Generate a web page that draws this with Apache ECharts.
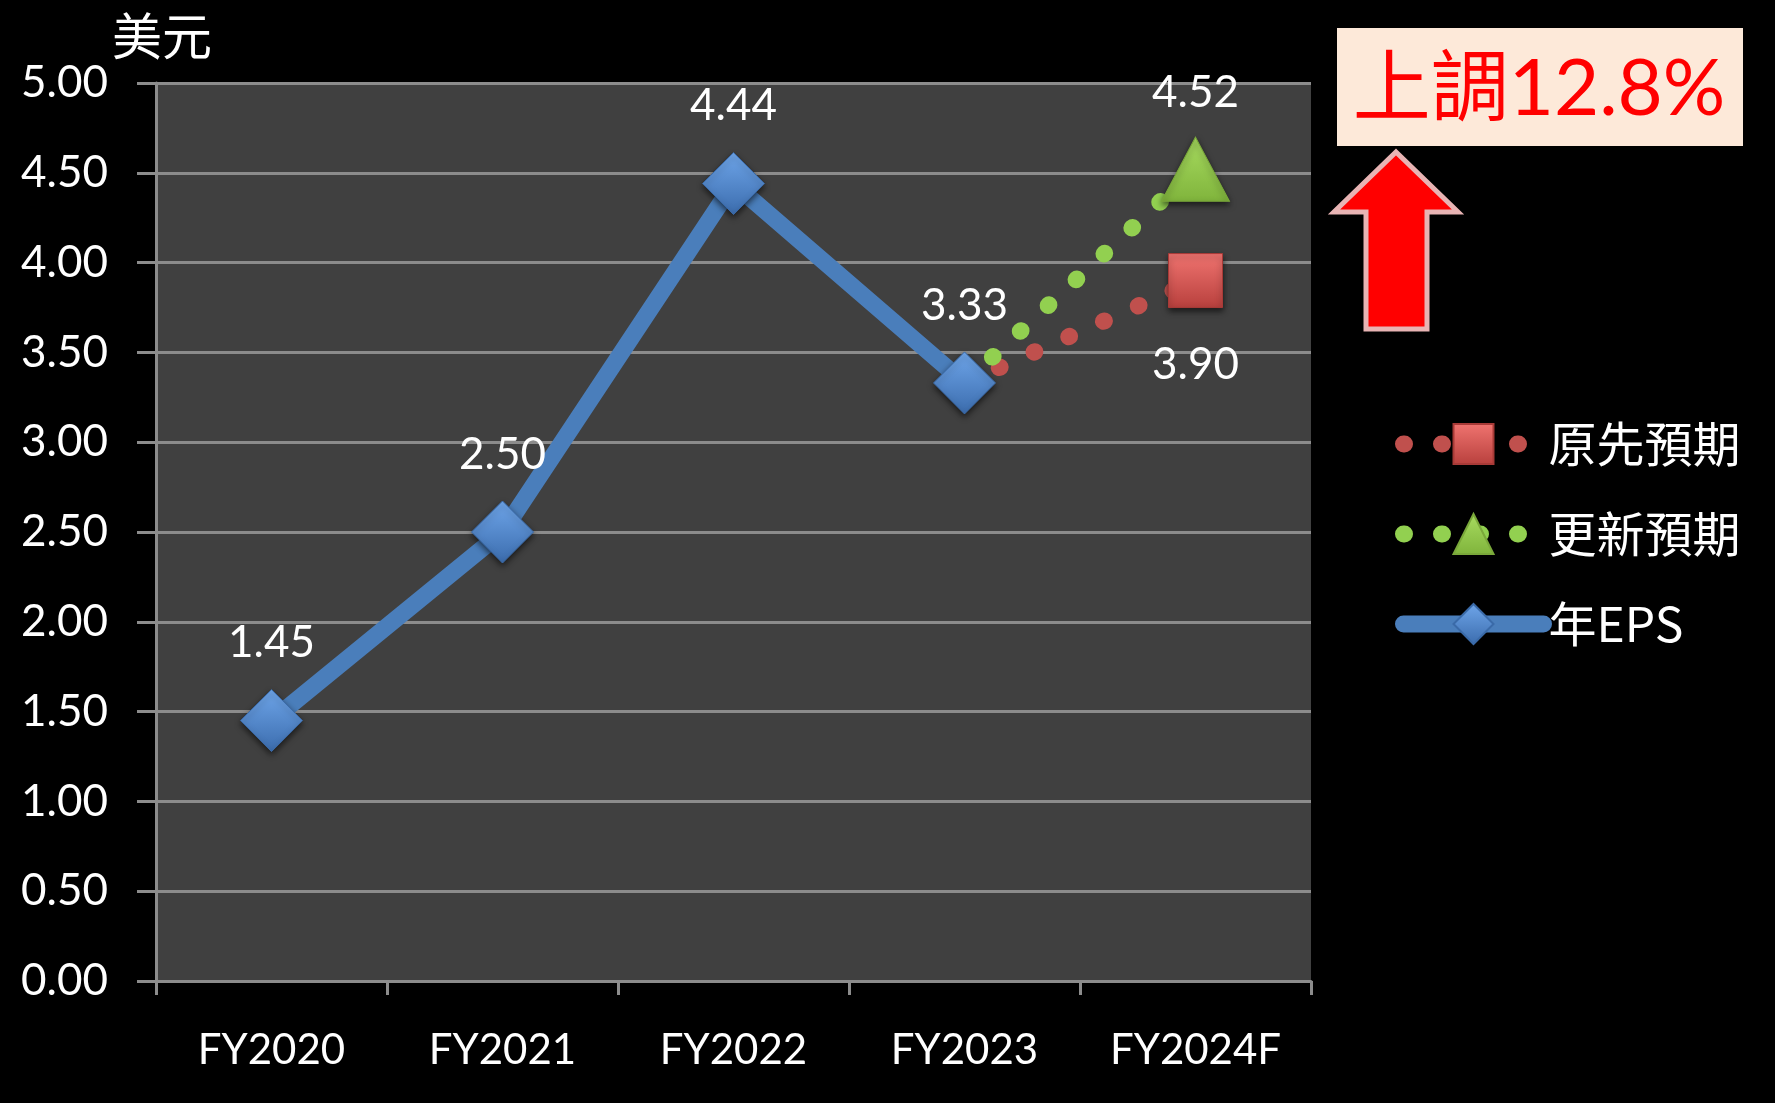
<!DOCTYPE html>
<html>
<head>
<meta charset="utf-8">
<script src="https://cdn.jsdelivr.net/npm/echarts@6/dist/echarts.min.js"></script>
<style>
  html, body { margin: 0; padding: 0; background: #000; }
  #chart { width: 1775px; height: 1103px; }
</style>
</head>
<body>
<div id="chart"></div>
<script>
// 資料
var years = ['FY2020', 'FY2021', 'FY2022', 'FY2023', 'FY2024F']
var epsValues = [1.45, 2.50, 4.44, 3.33, null]
var origValues = [null, null, null, 3.33, 3.90]   // 原先預期
var updValues = [null, null, null, 3.33, 4.52]    // 更新預期
var yTicks = { min: 0, max: 5, step: 0.5 }

var numFont = 'Lato, "Noto Sans CJK TC", sans-serif'
var cjkFont = '"Noto Sans CJK TC", Lato, sans-serif'
var dotStyle = [1, 37]

// 只在最後一點畫標記
function forecastData (values) {
  return values.map(function (v, i) {
    if (v === null) return null
    if (i === values.length - 1) return { value: v }
    return { value: v, symbol: 'none' }
  })
}

function grad (top, bottom) {
  return new echarts.graphic.LinearGradient(0, 0, 0, 1, [
    { offset: 0, color: top },
    { offset: 1, color: bottom }
  ])
}

var myChart = echarts.init(document.getElementById('chart'))
var option = {
  backgroundColor: '#000',
  animation: false,
  grid: {
    left: 156,
    right: 464,
    top: 83,
    bottom: 122,
    containLabel: false,
    show: true,
    backgroundColor: '#404040',
    borderWidth: 0
  },
  legend: {
    orient: 'vertical',
    left: 1390,
    top: 414,
    itemWidth: 140,
    itemHeight: 50,
    itemGap: 40,
    data: [
      { name: '原先預期', lineStyle: { width: 17, type: dotStyle, cap: 'round' } },
      { name: '更新預期', lineStyle: { width: 17, type: dotStyle, cap: 'round' } },
      { name: '年EPS', lineStyle: { width: 17, cap: 'round' } }
    ],
    textStyle: {
      color: '#fff',
      fontSize: 48,
      lineHeight: 50,
      fontFamily: cjkFont,
      padding: [0, 0, 0, 0]
    }
  },
  xAxis: {
    type: 'category',
    data: years,
    boundaryGap: true,
    axisLine: { lineStyle: { color: '#8c8c8c', width: 3 } },
    axisTick: { show: true, length: 14, lineStyle: { color: '#8c8c8c', width: 3 } },
    axisLabel: { color: '#fff', fontSize: 42, fontFamily: numFont, margin: 48 },
    splitLine: { show: false }
  },
  yAxis: {
    type: 'value',
    min: yTicks.min,
    max: yTicks.max,
    interval: yTicks.step,
    name: '美元',
    nameLocation: 'end',
    nameGap: 20,
    nameTextStyle: { color: '#fff', fontSize: 50, fontFamily: cjkFont, padding: [0, 0, 0, 12] },
    axisLine: { show: true, lineStyle: { color: '#8c8c8c', width: 3 } },
    axisTick: { show: true, length: 19, lineStyle: { color: '#8c8c8c', width: 3 } },
    axisLabel: {
      color: '#fff',
      fontSize: 44,
      fontFamily: numFont,
      margin: 48,
      formatter: function (v) { return v.toFixed(2) }
    },
    splitLine: { show: true, lineStyle: { color: '#8c8c8c', width: 3 } }
  },
  series: [
    {
      name: '原先預期',
      type: 'line',
      z: 2,
      data: forecastData(origValues),
      symbol: 'rect',
      symbolSize: 54,
      lineStyle: { color: '#c0504d', width: 17, type: dotStyle, cap: 'round' },
      itemStyle: {
        color: grad('#f07470', '#b8403d'),
        borderColor: '#a83a37',
        borderWidth: 1,
        shadowColor: 'rgba(0,0,0,0.6)',
        shadowBlur: 6,
        shadowOffsetY: 3
      },
      label: {
        show: true,
        position: 'bottom',
        distance: 35,
        color: '#fff',
        fontSize: 44,
        fontFamily: numFont,
        formatter: function (p) { return p.dataIndex === 4 ? p.value.toFixed(2) : '' }
      }
    },
    {
      name: '更新預期',
      type: 'line',
      z: 3,
      data: forecastData(updValues),
      symbol: 'triangle',
      symbolSize: [68, 64],
      lineStyle: { color: '#92d050', width: 17, type: dotStyle, cap: 'round' },
      itemStyle: {
        color: grad('#a8dc60', '#80b43c'),
        borderColor: '#7aa83a',
        borderWidth: 1,
        shadowColor: 'rgba(0,0,0,0.6)',
        shadowBlur: 6,
        shadowOffsetY: 3
      },
      label: {
        show: true,
        position: 'top',
        distance: 22,
        color: '#fff',
        fontSize: 44,
        fontFamily: numFont,
        formatter: function (p) { return p.dataIndex === 4 ? p.value.toFixed(2) : '' }
      }
    },
    {
      name: '年EPS',
      type: 'line',
      z: 5,
      data: epsValues,
      symbol: 'diamond',
      symbolSize: [62, 62],
      lineStyle: { color: '#4a7ebb', width: 17 },
      itemStyle: {
        color: grad('#6fa6ea', '#3b6cad'),
        borderColor: '#3a6aa8',
        borderWidth: 1,
        shadowColor: 'rgba(0,0,0,0.6)',
        shadowBlur: 6,
        shadowOffsetY: 3
      },
      label: {
        show: true,
        position: 'top',
        distance: 24,
        color: '#fff',
        fontSize: 44,
        fontFamily: numFont,
        formatter: function (p) { return p.value.toFixed(2) }
      }
    }
  ],
  graphic: [
    {
      type: 'rect',
      shape: { x: 1337, y: 28, width: 406, height: 118 },
      style: { fill: '#fde9d9' }
    },
    {
      type: 'text',
      x: 1539,
      y: 90,
      style: {
        text: '上調12.8%',
        fill: '#ff0000',
        fontSize: 78,
        fontFamily: numFont,
        align: 'center',
        verticalAlign: 'middle'
      }
    },
    {
      type: 'polygon',
      shape: {
        points: [[1396, 152], [1458, 212], [1427, 212], [1427, 329], [1366, 329], [1366, 212], [1334, 212]]
      },
      style: { fill: '#ff0000', stroke: '#e8b4b4', lineWidth: 5, lineJoin: 'miter' }
    }
  ]
}
myChart.setOption(option)
</script>
</body>
</html>
